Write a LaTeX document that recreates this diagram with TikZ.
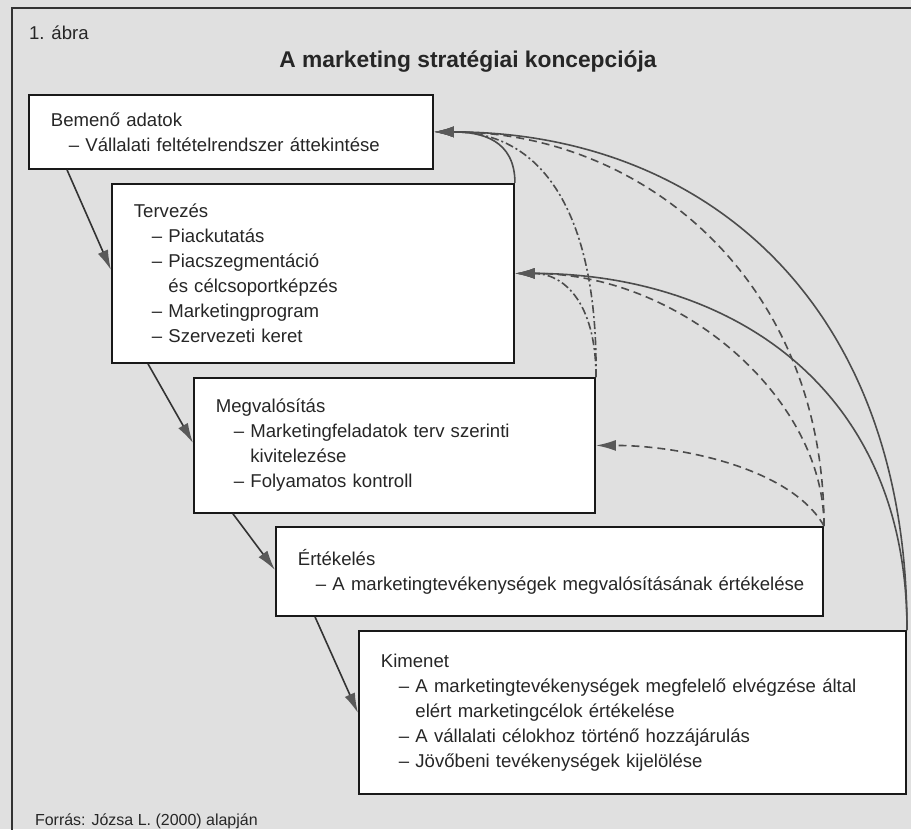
\documentclass[tikz,border=0pt]{standalone}
\usepackage{fontspec}
\setmainfont{Liberation Sans}
\usetikzlibrary{arrows.meta, positioning, calc}
\tikzset{
  stage/.style={rectangle, draw=black!90, line width=0.9pt, fill=white,
                anchor=north west, align=left, inner xsep=0.387cm, inner ysep=0pt,
                font=\fontsize{9.3}{12.5}\selectfont, text=black!85},
  fwd/.style={-{Latex[length=10pt,width=5.5pt,color=black!65]}, line width=0.8pt, draw=black!80},
  fb/.style={-{Latex[length=10pt,width=5.5pt,color=black!65]}, line width=0.8pt, draw=black!70},
  fbdash/.style={fb, dash pattern=on 4pt off 2.5pt},
  fbdot/.style={fb, dash pattern=on 4pt off 1.5pt on 1pt off 1.5pt},
}
\newcommand{\tetel}[1]{\hspace*{0.317cm}--\ #1}
\newcommand{\folyt}[1]{\hspace*{0.317cm}\phantom{--\ }#1}

\begin{document}
\begin{tikzpicture}[x=0.0176cm, y=-0.0176cm]
  \useasboundingbox (0,0) rectangle (911,829);
  \fill[black!12] (0,0) rectangle (911,829);
  \draw[line width=1pt, black!80] (12,8) rectangle (940,860);

  \node[anchor=west, font=\fontsize{9.3}{11}\selectfont, text=black!85] (abra) at (22,33) {1. ábra};
  \node[font=\fontsize{11.4}{13}\selectfont\bfseries, text=black!85] (title) at (468,62) {A marketing stratégiai koncepciója};

  \node[stage, text width=6.336cm, minimum height=1.302cm] (input) at (28,94)
    {Bemenő adatok\\ \tetel{Vállalati feltételrendszer áttekintése}};
  \node[stage, text width=6.301cm, minimum height=3.150cm] (plan) at (111,183)
    {Tervezés\\ \tetel{Piackutatás}\\ \tetel{Piacszegmentáció}\\ \folyt{és célcsoportképzés}\\
     \tetel{Marketingprogram}\\ \tetel{Szervezeti keret}};
  \node[stage, text width=6.284cm, minimum height=2.376cm] (megval) at (193,377)
    {Megvalósítás\\ \tetel{Marketingfeladatok terv szerinti}\\ \folyt{kivitelezése}\\
     \tetel{Folyamatos kontroll}};
  \node[stage, text width=8.853cm, minimum height=1.566cm] (ertek) at (275,526)
    {Értékelés\\ \mbox{\tetel{A marketingtevékenységek megvalósításának értékelése}}};
  \node[stage, text width=8.853cm, minimum height=2.869cm] (kimenet) at (358,630)
    {Kimenet\\ \tetel{A marketingtevékenységek megfelelő elvégzése által}\\
     \folyt{elért marketingcélok értékelése}\\ \tetel{A vállalati célokhoz történő hozzájárulás}\\
     \tetel{Jövőbeni tevékenységek kijelölése}};

  \node[anchor=west, font=\fontsize{8}{10}\selectfont, text=black!85] (forras) at (28,821) {Forrás: Józsa L. (2000) alapján};

  \draw[fwd] ($(input.south west)+(39,0)$) -- ($(plan.north west)+(0,87)$);
  \draw[fwd] ($(plan.south west)+(37,0)$) -- ($(megval.north west)+(0,66)$);
  \draw[fwd] ($(megval.south west)+(40,0)$) -- ($(ertek.north west)+(0,44)$);
  \draw[fwd] ($(ertek.south west)+(40,0)$) -- ($(kimenet.north west)+(0,83)$);

  \draw[fb] (kimenet.north east) .. controls +(0,-330) and +(268,0) .. (input.east);
  \draw[fb] (kimenet.north east) .. controls +(0,-250) and +(207,0) .. (plan.east);
  \draw[fbdash] (ertek.north east) .. controls +(0,-247) and +(208,0) .. (input.east);
  \draw[fbdash] (ertek.north east) .. controls +(0,-127) and +(167,0) .. (plan.east);
  \draw[fbdash] (ertek.north east) .. controls +(-32,-57) and +(86,0) .. (megval.east);
  \draw[fbdot] (megval.north east) .. controls +(2,-147) and +(118,0) .. (input.east);
  \draw[fbdot] (megval.north east) .. controls +(0,-77) and +(47,0) .. (plan.east);
  \draw[fb] (plan.north east) .. controls +(0,-43) and +(48,0) .. (input.east);
\end{tikzpicture}
\end{document}
